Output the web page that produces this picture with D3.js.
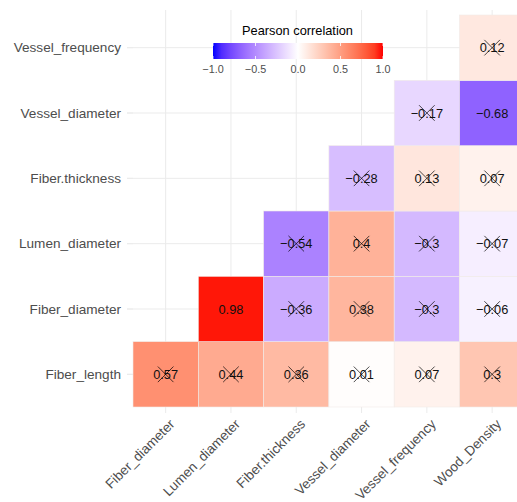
<!DOCTYPE html>
<html><head><meta charset="utf-8">
<script src="https://cdn.jsdelivr.net/npm/d3@7"></script>
<style>body{margin:0;background:#fff;} text{font-family:"Liberation Sans",Arial,Helvetica,sans-serif;}</style>
</head><body>
<svg id="chart" width="517" height="502"></svg>
<script>
const xCategories = ["Fiber_diameter","Lumen_diameter","Fiber.thickness","Vessel_diameter","Vessel_frequency","Wood_Density"];
const yCategories = ["Vessel_frequency","Vessel_diameter","Fiber.thickness","Lumen_diameter","Fiber_diameter","Fiber_length"];
const cellRows = ["Fiber_length","Fiber_length","Fiber_length","Fiber_length","Fiber_length","Fiber_length",
  "Fiber_diameter","Fiber_diameter","Fiber_diameter","Fiber_diameter","Fiber_diameter",
  "Lumen_diameter","Lumen_diameter","Lumen_diameter","Lumen_diameter",
  "Fiber.thickness","Fiber.thickness","Fiber.thickness",
  "Vessel_diameter","Vessel_diameter",
  "Vessel_frequency"];
const cellCols = ["Fiber_diameter","Lumen_diameter","Fiber.thickness","Vessel_diameter","Vessel_frequency","Wood_Density",
  "Lumen_diameter","Fiber.thickness","Vessel_diameter","Vessel_frequency","Wood_Density",
  "Fiber.thickness","Vessel_diameter","Vessel_frequency","Wood_Density",
  "Vessel_diameter","Vessel_frequency","Wood_Density",
  "Vessel_frequency","Wood_Density",
  "Wood_Density"];
const cellValues = [0.57,0.44,0.36,0.01,0.07,0.3,
  0.98,-0.36,0.38,-0.3,-0.06,
  -0.54,0.4,-0.3,-0.07,
  -0.28,0.13,0.07,
  -0.17,-0.68,
  0.12];
const cellInsignificant = [true,true,true,true,true,true,
  false,true,true,true,true,
  true,true,true,true,
  true,true,true,
  true,false,
  true];
const legendTicks = [-1,-0.5,0,0.5,1];
const legendTitle = "Pearson correlation";

const cells = cellValues.map((v,i)=>({row:cellRows[i], col:cellCols[i], v, x:cellInsignificant[i]}));

// CIELAB (D65) interpolation, like R's colour_ramp
function toLab(hex){
  const c=d3.rgb(hex); const lin=v=>{v/=255;return v<=0.04045?v/12.92:Math.pow((v+0.055)/1.055,2.4);};
  const r=lin(c.r),g=lin(c.g),b=lin(c.b);
  let X=(0.4124*r+0.3576*g+0.1805*b)/0.95047, Y=(0.2126*r+0.7152*g+0.0722*b), Z=(0.0193*r+0.1192*g+0.9505*b)/1.08883;
  const f=t=>t>0.008856?Math.cbrt(t):7.787*t+16/116;
  const fx=f(X),fy=f(Y),fz=f(Z);
  return [116*fy-16,500*(fx-fy),200*(fy-fz)];
}
function fromLab(L,a,b){
  const fy=(L+16)/116, fx=fy+a/500, fz=fy-b/200;
  const finv=t=>t*t*t>0.008856?t*t*t:(t-16/116)/7.787;
  const X=0.95047*finv(fx),Y=finv(fy),Z=1.08883*finv(fz);
  let r=3.2406*X-1.5372*Y-0.4986*Z, g=-0.9689*X+1.8758*Y+0.0415*Z, bb=0.0557*X-0.2040*Y+1.0570*Z;
  const gam=v=>{v=Math.max(0,Math.min(1,v));return 255*(v<=0.0031308?12.92*v:1.055*Math.pow(v,1/2.4)-0.055);};
  return d3.rgb(gam(r),gam(g),gam(bb)).formatHex();
}
const labInterp=(a,b)=>{const A=toLab(a),B=toLab(b);return t=>fromLab(A[0]+(B[0]-A[0])*t,A[1]+(B[1]-A[1])*t,A[2]+(B[2]-A[2])*t);};

const svg = d3.select("#chart");
const x = d3.scaleBand().domain(xCategories).range([133, 133+6*65.3]);
const y = d3.scaleBand().domain(yCategories).range([15, 407]);
const color = d3.scaleLinear().domain([-1,0,1]).range(["#0000ff","#ffffff","#ff0000"]).interpolate(labInterp);
const grid = "#ebebeb";

svg.append("g").selectAll("line").data(xCategories).join("line")
  .attr("x1",d=>x(d)+x.bandwidth()/2).attr("x2",d=>x(d)+x.bandwidth()/2)
  .attr("y1",10).attr("y2",413).attr("stroke",grid).attr("stroke-width",1);
svg.append("g").selectAll("line").data(yCategories).join("line")
  .attr("y1",d=>y(d)+y.bandwidth()/2).attr("y2",d=>y(d)+y.bandwidth()/2)
  .attr("x1",127).attr("x2",517).attr("stroke",grid).attr("stroke-width",1);

const g = svg.append("g");
g.selectAll("rect").data(cells).join("rect")
  .attr("x",d=>x(d.col)).attr("y",d=>y(d.row))
  .attr("width",x.bandwidth()).attr("height",y.bandwidth())
  .attr("fill",d=>color(d.v)).attr("stroke","#f0ebe8").attr("stroke-width",0.6);

const fmt = v => (v<0?"\u2212":"") + String(Math.abs(v));
g.selectAll("text").data(cells).join("text")
  .attr("x",d=>x(d.col)+x.bandwidth()/2).attr("y",d=>y(d.row)+y.bandwidth()/2)
  .attr("text-anchor","middle").attr("dominant-baseline","central")
  .attr("font-size",12.8).attr("fill","#111").text(d=>fmt(d.v));

const crosses = cells.filter(d=>d.x);
const cs = 7.8;
g.selectAll("path.cross").data(crosses).join("path").attr("class","cross")
  .attr("d",d=>{const cx=x(d.col)+x.bandwidth()/2, cy=y(d.row)+y.bandwidth()/2;
    return `M${cx-cs},${cy-cs}L${cx+cs},${cy+cs}M${cx-cs},${cy+cs}L${cx+cs},${cy-cs}`;})
  .attr("stroke","#000").attr("stroke-width",0.7).attr("fill","none");

svg.append("g").selectAll("line").data(yCategories).join("line")
  .attr("x1",127).attr("x2",133).attr("y1",d=>y(d)+y.bandwidth()/2).attr("y2",d=>y(d)+y.bandwidth()/2)
  .attr("stroke",grid);
svg.append("g").selectAll("text").data(yCategories).join("text")
  .attr("x",121).attr("y",d=>y(d)+y.bandwidth()/2)
  .attr("text-anchor","end").attr("dominant-baseline","central")
  .attr("font-size",13.6).attr("fill","#4d4d4d").text(d=>d);
svg.append("g").selectAll("text").data(xCategories).join("text")
  .attr("transform",d=>`translate(${x(d)+x.bandwidth()/2+3},${418}) rotate(-45)`)
  .attr("text-anchor","end").attr("dy","0.72em")
  .attr("font-size",13.6).attr("fill","#4d4d4d").text(d=>d);

const lx = d3.scaleLinear().domain([-1,1]).range([213,383]);
const defs = svg.append("defs");
const grad = defs.append("linearGradient").attr("id","lg");
d3.range(0,1.0001,0.05).forEach(t=>grad.append("stop").attr("offset",t).attr("stop-color",color(-1+2*t)));
svg.append("text").attr("x",297.5).attr("y",35).attr("text-anchor","middle")
  .attr("font-size",12.8).attr("fill","#000").text(legendTitle);
svg.append("rect").attr("x",213).attr("y",43).attr("width",170).attr("height",16).attr("fill","url(#lg)");
const lt = svg.append("g");
legendTicks.forEach(t=>{
  lt.append("line").attr("x1",lx(t)).attr("x2",lx(t)).attr("y1",43).attr("y2",46).attr("stroke","#fff").attr("stroke-width",0.8);
  lt.append("line").attr("x1",lx(t)).attr("x2",lx(t)).attr("y1",56).attr("y2",59).attr("stroke","#fff").attr("stroke-width",0.8);
});
lt.selectAll("text").data(legendTicks).join("text")
  .attr("x",d=>lx(d)).attr("y",73).attr("text-anchor","middle")
  .attr("font-size",10.8).attr("fill","#4d4d4d").text(d=>(d<0?"\u2212":"")+Math.abs(d).toFixed(1));
</script>
</body></html>
